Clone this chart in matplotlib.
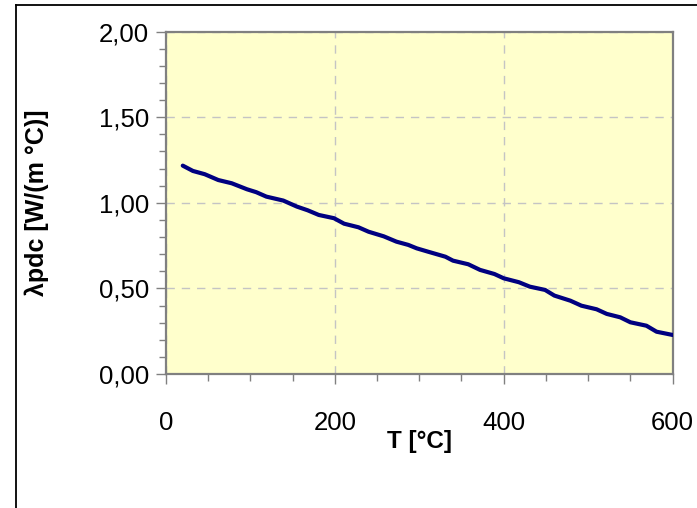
import matplotlib
matplotlib.use("Agg")
import matplotlib.pyplot as plt
from matplotlib.ticker import MultipleLocator, FuncFormatter
from matplotlib.lines import Line2D

plt.rcParams["font.family"] = ["Liberation Sans", "DejaVu Sans"]

# thermal conductivity vs temperature
temp = [20, 32, 46, 62, 78, 96, 107, 119, 139, 155, 168, 181, 199, 211, 228,
        240, 258, 273, 287, 297, 310, 331, 340, 358, 372, 389, 400, 418, 431,
        449, 460, 479, 492, 510, 522, 538, 550, 569, 581, 600]
lam = [1.217, 1.186, 1.167, 1.133, 1.114, 1.079, 1.062, 1.036, 1.013, 0.978,
       0.956, 0.929, 0.910, 0.878, 0.857, 0.831, 0.804, 0.773, 0.754, 0.734,
       0.715, 0.685, 0.662, 0.641, 0.608, 0.584, 0.559, 0.536, 0.510, 0.491,
       0.458, 0.428, 0.399, 0.378, 0.351, 0.331, 0.302, 0.282, 0.247, 0.228]

fig = plt.figure(figsize=(6.97, 5.08), dpi=100)
ax = fig.add_axes([0.238, 0.2638, 0.727, 0.674])

ax.set_facecolor("#FFFFCC")
ax.plot(temp, lam, color="#000080", lw=3, solid_capstyle="round", zorder=3)

ax.set_xlim(0, 600)
ax.set_ylim(0, 2)
ax.xaxis.set_major_locator(MultipleLocator(200))
ax.xaxis.set_minor_locator(MultipleLocator(50))
ax.yaxis.set_major_locator(MultipleLocator(0.5))
ax.yaxis.set_minor_locator(MultipleLocator(0.1))
ax.yaxis.set_major_formatter(FuncFormatter(lambda v, p: f"{v:.2f}".replace(".", ",")))

ax.grid(True, which="major", color="#C4C4C4", linestyle=(0, (6, 5)), lw=1)
ax.set_axisbelow(True)

for s in ax.spines.values():
    s.set_color("#808080")
    s.set_linewidth(1.6)

ax.tick_params(which="major", direction="out", length=7, width=1, color="#808080",
               labelsize=18.5)
ax.tick_params(which="minor", direction="out", length=5, width=1, color="#808080")
ax.tick_params(axis="x", which="major", pad=20)
ax.tick_params(axis="y", which="major", pad=5)

ax.set_xlabel("T [°C]", fontsize=17.5, fontweight="bold", labelpad=-4)
ax.set_ylabel("λpdc [W/(m °C)]", fontsize=18, fontweight="bold", labelpad=36)

# outer frame (left and top edges only)
fig.add_artist(Line2D([16 / 697, 16 / 697], [0, 1 - 5 / 508],
                      transform=fig.transFigure, color="black", lw=1.3))
fig.add_artist(Line2D([16 / 697, 1], [1 - 5 / 508, 1 - 5 / 508],
                      transform=fig.transFigure, color="black", lw=1.3))

fig.savefig("out.png", dpi=100)
